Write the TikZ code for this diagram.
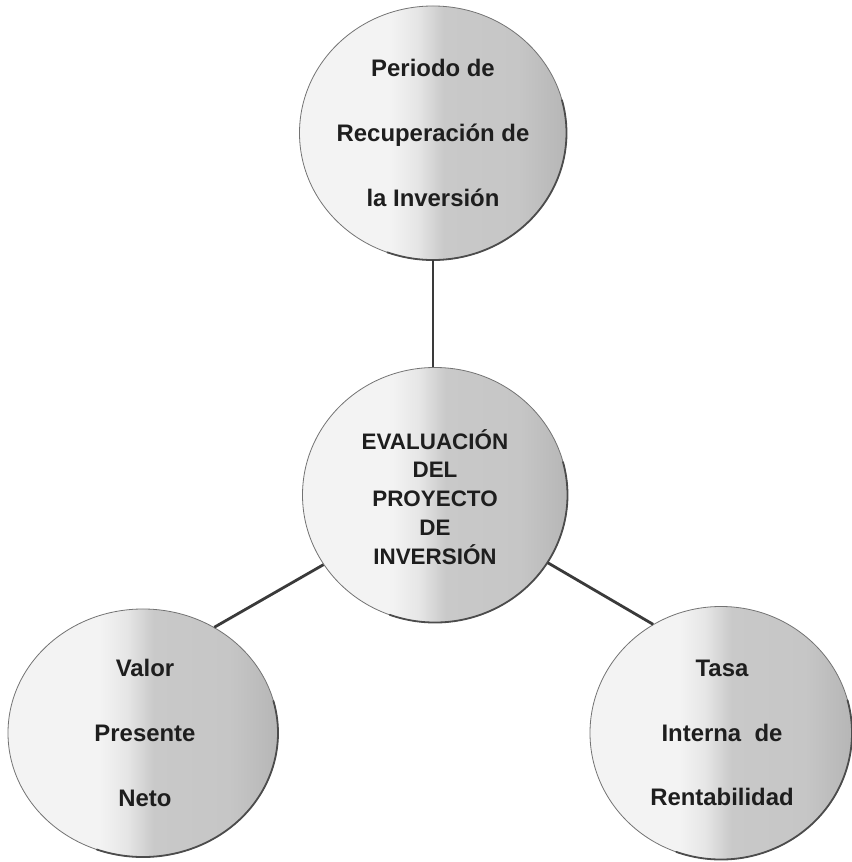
\documentclass[tikz,border=0pt]{standalone}
\usepackage{fontspec}
\setmainfont{Liberation Sans}
\usetikzlibrary{shapes.geometric}

% greys of the sphere shading, light on the left, darker on the right
\definecolor{orbA}{HTML}{F3F3F3}
\definecolor{orbB}{HTML}{E6E6E6}
\definecolor{orbC}{HTML}{C9C9C9}
\definecolor{orbD}{HTML}{C6C6C6}
\definecolor{orbE}{HTML}{B6B6B6}
\definecolor{linkgray}{HTML}{3A3A3A}
\definecolor{inkgray}{HTML}{1E1E1E}

% the path box spans 25bp..75bp of this shading
\pgfdeclarehorizontalshading{orbshade}{100bp}{%
  color(0bp)=(orbA); color(25bp)=(orbA); color(42bp)=(orbA);
  color(47bp)=(orbB); color(52bp)=(orbC); color(66bp)=(orbD);
  color(75bp)=(orbE); color(100bp)=(orbE)}

\begin{document}
\begin{tikzpicture}[x=1bp,y=1bp,
  orb/.style={ellipse, inner sep=0pt, draw=black!55, line width=0.8bp,
              shading=orbshade},
  rim/.style={draw=black!70, line width=1.8bp, line cap=round},
  link/.style={draw=linkgray, line width=2.8bp},
  bigtxt/.style={font=\bfseries\fontsize{24}{65}\selectfont, align=center,
                 text=inkgray},
  midtxt/.style={font=\bfseries\fontsize{22.5}{29}\selectfont, align=center,
                 text=inkgray}]

\useasboundingbox (0,0) rectangle (852,862);

% the four spheres
\node[orb, minimum width=267bp, minimum height=254bp] (pri)  at (433,729) {};
\node[orb, minimum width=265bp, minimum height=255bp] (eval) at (435,367) {};
\node[orb, minimum width=270bp, minimum height=248bp] (van)  at (143,129) {};
\node[orb, minimum width=262bp, minimum height=253bp] (tir)  at (721,129) {};

% darker rim on the lower right of each sphere
\draw[rim] (pri.center)  ++(-110:133.5 and 127)
  arc[start angle=-110, end angle=15, x radius=133.5, y radius=127];
\draw[rim] (eval.center) ++(-110:132.5 and 127.5)
  arc[start angle=-110, end angle=15, x radius=132.5, y radius=127.5];
\draw[rim] (van.center)  ++(-110:135 and 124)
  arc[start angle=-110, end angle=15, x radius=135, y radius=124];
\draw[rim] (tir.center)  ++(-110:131 and 126.5)
  arc[start angle=-110, end angle=15, x radius=131, y radius=126.5];

% connectors
\draw[link] (pri.south) -- (pri.south |- eval.north);
\draw[link] (eval.212) -- (van.56);
\draw[link] (eval.329) -- (tir.122);

% labels
\node[bigtxt] (tpri) at (pri.center) {Periodo de\\Recuperación de\\la Inversión};
\node[midtxt] (teval) at ([yshift=-2bp]eval.center)
  {EVALUACIÓN\\DEL\\PROYECTO\\DE\\INVERSIÓN};
\node[bigtxt] (tvan) at ([xshift=2bp]van.center) {Valor\\Presente\\Neto};
\node[bigtxt] (ttir) at ([xshift=1bp]tir.center) {Tasa\\Interna\ \ de\\Rentabilidad};
\end{tikzpicture}
\end{document}
